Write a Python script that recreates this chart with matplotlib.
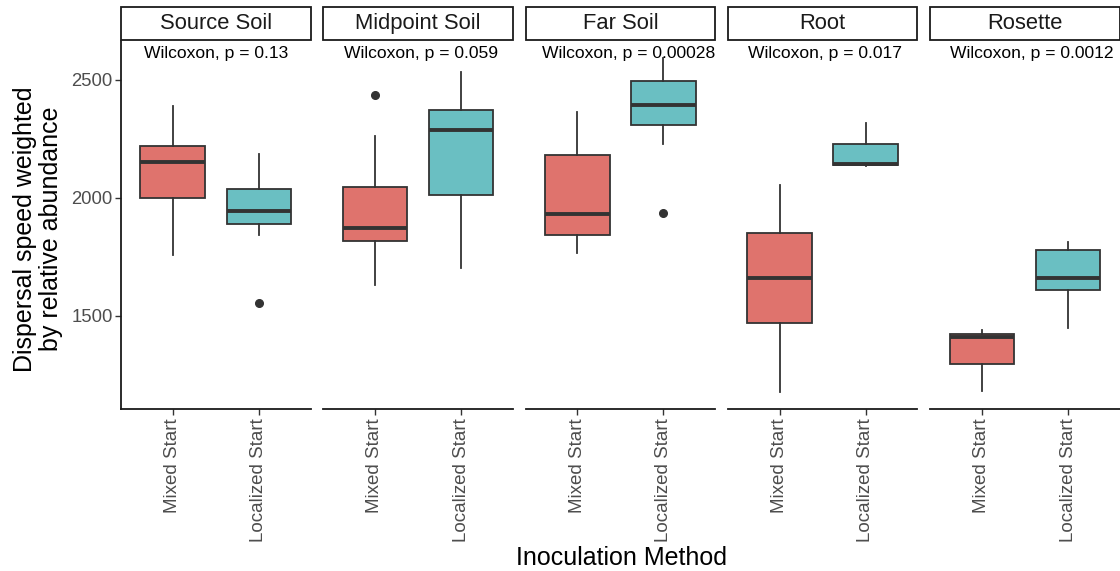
import matplotlib
matplotlib.use("Agg")
import matplotlib.pyplot as plt
from matplotlib.patches import Rectangle

plt.rcParams['font.family'] = ['Liberation Sans', 'DejaVu Sans']

panels = ["Source Soil", "Midpoint Soil", "Far Soil", "Root", "Rosette"]
groups = ["Mixed Start", "Localized Start"]
pvalues = ["0.13", "0.059", "0.00028", "0.017", "0.0012"]

# per panel: [Mixed, Localized] -> (whislo, q1, med, q3, whishi)
mixed_stats = [
    (1757, 2000, 2154, 2219, 2388),
    (1630, 1819, 1874, 2045, 2261),
    (1767, 1842, 1932, 2181, 2366),
    (1176, 1470, 1661, 1852, 2056),
    (1183, 1297, 1411, 1422, 1442),
]
localized_stats = [
    (1845, 1890, 1946, 2038, 2188),
    (1703, 2013, 2286, 2374, 2534),
    (2229, 2309, 2392, 2494, 2593),
    (2136, 2140, 2144, 2230, 2316),
    (1449, 1612, 1661, 1781, 1815),
]
mixed_outliers = [[], [2435], [], [], []]
localized_outliers = [[1555], [], [1938], [], []]

colors = ["#DF736D", "#6ABFC2"]
edge = "#333333"

W, H = 1120, 571
fig = plt.figure(figsize=(W / 100, H / 100), dpi=100)

left0 = 121
pw = 189.5
gap = 12.8
ybot = 409
ytop = 41
label_off = [0, 3, 8.7, 2.6, 7]

for i, name in enumerate(panels):
    x0 = left0 + i * (pw + gap)
    ax = fig.add_axes([x0 / W, 1 - ybot / H, pw / W, (ybot - ytop) / H])
    stats = []
    for s, outl, lab in [(mixed_stats[i], mixed_outliers[i], groups[0]),
                         (localized_stats[i], localized_outliers[i], groups[1])]:
        stats.append(dict(whislo=s[0], q1=s[1], med=s[2], q3=s[3], whishi=s[4],
                          fliers=outl, label=lab))
    bp = ax.bxp(stats, positions=[1, 2], widths=0.75, patch_artist=True,
                showcaps=False,
                boxprops=dict(edgecolor=edge, linewidth=1.3),
                medianprops=dict(color=edge, linewidth=2.8, solid_capstyle='butt'),
                whiskerprops=dict(color=edge, linewidth=1.3),
                flierprops=dict(marker='o', markerfacecolor=edge, markeredgecolor=edge,
                                markersize=5.5))
    for patch, c in zip(bp['boxes'], colors):
        patch.set_facecolor(c)
    ax.set_xlim(0.4, 2.6)
    ax.set_ylim(1106, 2665)
    for sp in ['top', 'right']:
        ax.spines[sp].set_visible(False)
    ax.spines['bottom'].set_linewidth(1.3)
    ax.spines['bottom'].set_color('#1a1a1a')
    ax.set_xticks([1, 2])
    ax.set_xticklabels(groups, rotation=90, fontsize=13.5, color='#4d4d4d')
    ax.tick_params(axis='x', length=4, width=1, color='#333333', pad=2.5)
    if i == 0:
        ax.spines['left'].set_linewidth(1.3)
        ax.spines['left'].set_color('#1a1a1a')
        ax.set_yticks([1500, 2000, 2500])
        ax.tick_params(axis='y', length=4, width=1, color='#333333', labelsize=13.3,
                       labelcolor='#4d4d4d', pad=2)
    else:
        ax.spines['left'].set_visible(False)
        ax.set_yticks([])
    ax.text(1.5 + label_off[i] / 86.4, 2612, f"Wilcoxon, p = {pvalues[i]}",
            ha='center', va='center', fontsize=12.6, color='black')
    # strip
    fig.patches.append(Rectangle((x0 / W, 1 - 40 / H), pw / W, 33 / H,
                                 transform=fig.transFigure, facecolor='white',
                                 edgecolor='#1a1a1a', linewidth=1.3))
    fig.text((x0 + pw / 2) / W, 1 - 23.5 / H, name, ha='center', va='center',
             fontsize=15.8, color='#1a1a1a')

fig.text(38 / W, 1 - 229 / H, "Dispersal speed weighted\nby relative abundance",
         rotation=90, ha='center', va='center', fontsize=18, linespacing=1.08)
fig.text(621 / W, 1 - 558 / H, "Inoculation Method", ha='center', va='center',
         fontsize=18)

fig.savefig("out.png", dpi=100)
